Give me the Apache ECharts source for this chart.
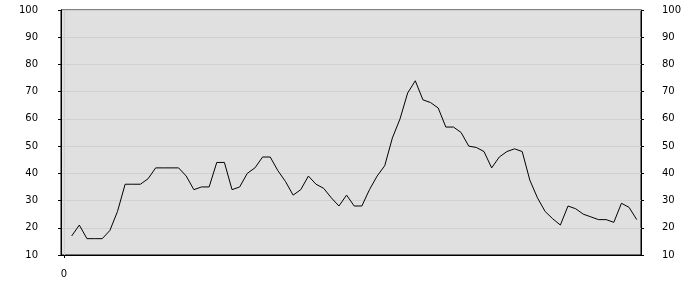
<!DOCTYPE html>
<html>
<head>
<meta charset="utf-8">
<script src="https://cdn.jsdelivr.net/npm/echarts@6/dist/echarts.min.js"></script>
<style>html,body{margin:0;padding:0;background:#fff}#c{width:700px;height:300px}</style>
</head>
<body>
<div id="c"></div>
<script>
var values = [17, 21, 16, 16, 16, 19, 26, 36, 36, 36, 38, 42, 42, 42, 42, 39, 34, 35, 35, 44,
  44, 34, 35, 40, 42, 46, 46, 41, 37, 32, 34, 39, 36, 34.5, 31, 28, 32, 28, 28, 34,
  39, 42.8, 53, 60, 69.5, 74, 67, 66, 64, 57, 57, 55, 50, 49.5, 48, 42, 46, 48, 49, 48,
  37.5, 31, 26, 23.3, 21, 28, 27, 25, 24, 23, 23, 22, 29, 27.5, 23];
var xTickLabels = [0];
var yTicks = [10, 20, 30, 40, 50, 60, 70, 80, 90, 100];

var data = values.map(function (v, i) { return [i + 1, v]; });
var font = { fontFamily: 'DejaVu Sans', fontSize: 10, color: '#000' };
var chart = echarts.init(document.getElementById('c'), null, { renderer: 'canvas' });
chart.setOption({
  animation: false,
  grid: { left: 61, right: 59, top: 10, bottom: 45, show: true, backgroundColor: '#e0e0e0', borderColor: '#000', borderWidth: 1 },
  xAxis: {
    type: 'value', min: -0.4, max: 75.56,
    axisLine: { show: true, onZero: false, lineStyle: { color: '#000' } },
    axisTick: { show: true, customValues: xTickLabels, length: 3, lineStyle: { color: '#000' } },
    axisLabel: Object.assign({ customValues: xTickLabels, margin: 14 }, font),
    splitLine: { show: true, lineStyle: { color: '#cfcfcf' } }
  },
  yAxis: [
    {
      type: 'value', min: yTicks[0], max: yTicks[yTicks.length - 1], interval: 10, position: 'left',
      axisLine: { show: true, onZero: false, lineStyle: { color: '#000' } },
      axisTick: { show: true, length: 3, lineStyle: { color: '#000' } },
      axisLabel: Object.assign({ margin: 23 }, font),
      splitLine: { show: true, lineStyle: { color: '#d0d0d0' } }
    },
    {
      type: 'value', min: yTicks[0], max: yTicks[yTicks.length - 1], interval: 10, position: 'right',
      axisLine: { show: true, onZero: false, lineStyle: { color: '#000' } },
      axisTick: { show: true, length: 3, lineStyle: { color: '#000' } },
      axisLabel: Object.assign({ margin: 21 }, font),
      splitLine: { show: false }
    }
  ],
  series: [{
    type: 'line', data: data, yAxisIndex: 0, showSymbol: false, symbol: 'none',
    lineStyle: { color: '#000', width: 1 }
  }]
});
</script>
</body>
</html>
